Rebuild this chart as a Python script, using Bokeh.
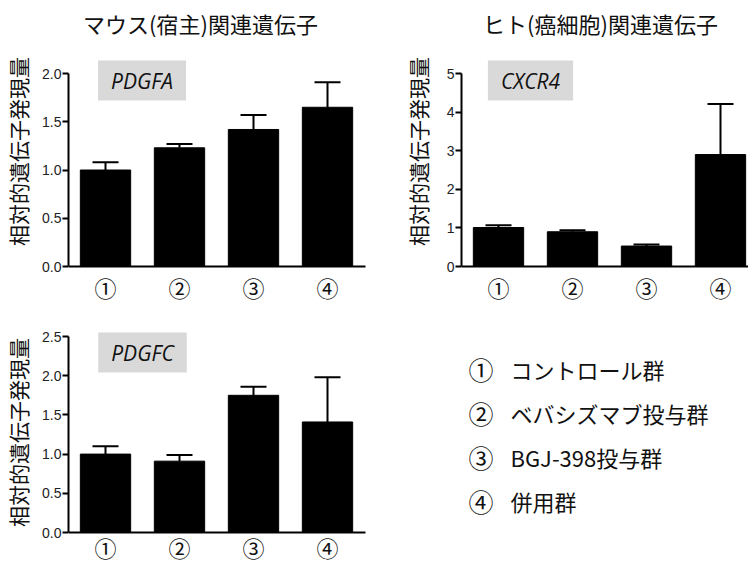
from bokeh.plotting import figure
from bokeh.models import (Range1d, ColumnDataSource, Whisker, TeeHead, Label,
                          FixedTicker, PrintfTickFormatter)
from bokeh.layouts import column, row
from bokeh.embed import file_html
from bokeh.resources import INLINE
from bokeh.core.properties import value

# ---- data ----
groups = [1, 2, 3, 4]
group_labels = ["①", "②", "③", "④"]
legend_texts = ["コントロール群", "ベバシズマブ投与群", "BGJ-398投与群", "併用群"]

pdgfa_mean = [1.00, 1.23, 1.42, 1.65]
pdgfa_err = [0.08, 0.04, 0.15, 0.26]
cxcr4_mean = [1.01, 0.90, 0.53, 2.90]
cxcr4_err = [0.06, 0.04, 0.04, 1.31]
pdgfc_mean = [1.00, 0.91, 1.75, 1.41]
pdgfc_err = [0.10, 0.08, 0.11, 0.57]

pdgfa_ticks = [0.0, 0.5, 1.0, 1.5, 2.0]
cxcr4_ticks = [0, 1, 2, 3, 4, 5]
pdgfc_ticks = [0.0, 0.5, 1.0, 1.5, 2.0, 2.5]

title_mouse = "マウス(宿主)関連遺伝子"
title_human = "ヒト(癌細胞)関連遺伝子"
ylabel = "相対的遺伝子発現量"

JP = "Noto Sans CJK JP"
SPACING = 74.0  # px per category
TXT = "#111111"


def panel(mean, err, gene, ticks, fmt, fig_x, fig_y, width, height, left,
          y_top_px, y_zero_px, axis_end_px, label_standoff, xlab_standoff, gene_c,
          title=None, title_c=None):
    """fig_x/fig_y: page position of the figure; *_px: page pixel rows/cols."""
    ymax = ticks[-1]
    frame_left = fig_x + left
    frame_w = width - left
    unit_y = (y_zero_px - y_top_px) / ymax          # px per y unit
    y_lo = -(fig_y + height - y_zero_px) / unit_y
    y_hi = ymax + (y_top_px - fig_y) / unit_y
    xend = 0.5 + frame_w / SPACING

    def X(px):
        return 0.5 + (px - frame_left) / SPACING

    def Y(py):
        return (y_zero_px - py) / unit_y

    p = figure(width=width, height=height, output_backend="svg", toolbar_location=None,
               x_range=Range1d(0.5, xend), y_range=Range1d(y_lo, y_hi),
               min_border_left=left, min_border_right=0,
               min_border_top=0, min_border_bottom=0)
    p.outline_line_color = None
    p.xgrid.visible = False
    p.ygrid.visible = False

    src = ColumnDataSource(dict(x=groups, top=mean,
                                upper=[m + e for m, e in zip(mean, err)]))
    p.add_layout(Whisker(base="x", lower="top", upper="upper", source=src,
                         line_width=2, line_color="black",
                         upper_head=TeeHead(size=26, line_width=2, line_color="black"),
                         lower_head=None))
    p.vbar(x="x", top="top", width=0.68, source=src,
           fill_color="black", line_color="black")

    # x axis drawn at y = 0 with circled group numbers
    xa = p.xaxis[0]
    xa.fixed_location = 0
    xa.bounds = (0.5, min(X(axis_end_px), xend))
    xa.ticker = FixedTicker(ticks=groups)
    xa.major_label_overrides = {g: l for g, l in zip(groups, group_labels)}
    xa.major_tick_line_color = None
    xa.minor_tick_line_color = None
    xa.axis_line_width = 2
    xa.major_label_text_font = JP
    xa.major_label_text_font_size = "22px"
    xa.major_label_text_color = TXT
    xa.major_label_standoff = xlab_standoff

    # y axis
    ya = p.yaxis[0]
    ya.bounds = (0, ymax)
    ya.ticker = FixedTicker(ticks=ticks)
    ya.formatter = PrintfTickFormatter(format=fmt)
    ya.minor_tick_line_color = None
    ya.major_tick_in = 0
    ya.major_tick_out = 6
    ya.major_tick_line_width = 2
    ya.axis_line_width = 2
    ya.major_label_standoff = 1
    ya.major_label_text_font = "Liberation Sans"
    ya.major_label_text_font_size = "14px"
    ya.major_label_text_color = "#222222"
    ya.axis_label = ylabel
    ya.axis_label_text_font = JP
    ya.axis_label_text_font_size = "21px"
    ya.axis_label_text_font_style = "normal"
    ya.axis_label_text_color = TXT
    ya.axis_label_standoff = label_standoff

    if title:
        p.add_layout(Label(x=X(title_c[0]), y=Y(title_c[1]),
                           text=title, text_align="center", text_baseline="middle",
                           text_font=JP, text_font_size="22px", text_color=TXT))

    p.add_layout(Label(x=X(gene_c[0]), y=Y(gene_c[1]),
                       text=gene, text_align="center", text_baseline="middle",
                       text_font="Open Sans", text_font_style="italic",
                       text_font_size="21px", text_color=TXT,
                       background_fill_color="#d9d9d9",
                       padding=(13, 6)))
    return p


TOP_H = 302
BOT_H = 260
p1 = panel(pdgfa_mean, pdgfa_err, "PDGFA", pdgfa_ticks, "%.1f", 0, 0, 380, TOP_H, 68,
           73, 266, 365, 6, -2, (141.5, 80), title_mouse, (200, 22))
p2 = panel(cxcr4_mean, cxcr4_err, "CXCR4", cxcr4_ticks, "%d", 380, 0, 368, TOP_H, 81,
           73, 266, 760, 11, -2, (530, 80), title_human, (600, 22))
p3 = panel(pdgfc_mean, pdgfc_err, "PDGFC", pdgfc_ticks, "%.1f", 0, TOP_H, 380, BOT_H, 68,
           336, 532, 365, 6, -8, (142, 352))

# legend panel: pixel coordinates from its top-left corner
p4 = figure(width=368, height=BOT_H, output_backend="svg", toolbar_location=None,
            x_range=Range1d(0, 368), y_range=Range1d(BOT_H, 0),
            x_axis_location=None, y_axis_location=None, min_border=0)
p4.outline_line_color = None
p4.xgrid.visible = False
p4.ygrid.visible = False
rows_y = [66 + 44.3 * i for i in range(len(legend_texts))]
p4.text(x=88, y=rows_y, text=group_labels, text_font=value(JP), text_font_size="25px",
        text_baseline="middle", text_align="left", text_color=TXT)
p4.text(x=130, y=rows_y, text=legend_texts, text_font=value(JP), text_font_size="22px",
        text_baseline="middle", text_align="left", text_color=TXT)

layout = column(row(p1, p2), row(p3, p4))
open("out.html", "w").write(file_html(layout, INLINE))
